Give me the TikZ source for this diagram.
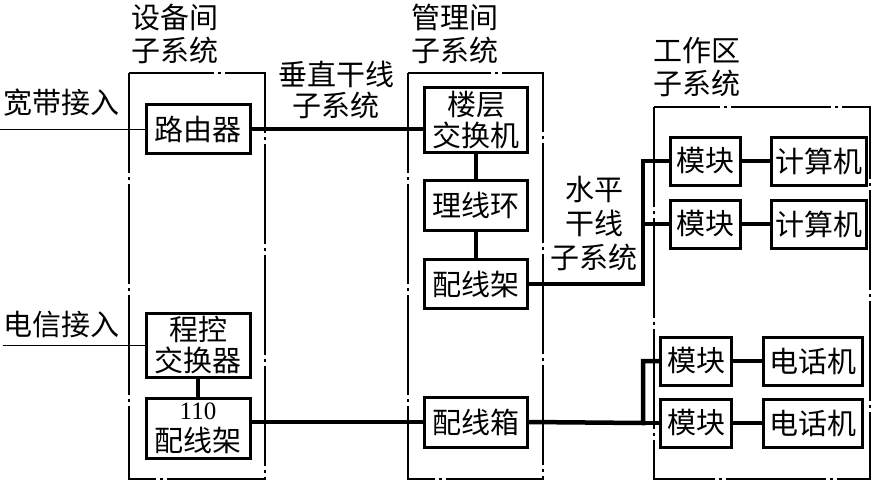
\documentclass[tikz,border=0pt]{standalone}
\usepackage{fontspec}
\setmainfont{Liberation Serif}
\newfontfamily\cjk{Noto Sans CJK SC}
\begin{document}
\begin{tikzpicture}[x=1pt, y=-1pt, font=\cjk\fontsize{29}{31}\selectfont,
    unit/.style={draw, line width=3pt, inner sep=0pt, align=center, fill=white},
    frame/.style={line width=1.2pt, dash pattern=on 100pt off 4pt on 3pt off 4pt},
    wire/.style={line width=4.5pt},
    title/.style={align=center, font=\cjk\fontsize{29}{33}\selectfont}]
  \useasboundingbox (0,0) rectangle (871,483);
  % Subsystem frames
  \draw[frame] (129,73) rectangle (265,479);
  \draw[frame] (408,73) rectangle (543,479);
  \draw[frame] (654,107) rectangle (870,479);
  \node[title] (eqroom) at (175,34) {设备间\\子系统};
  \node[title] (mgroom) at (455,34) {管理间\\子系统};
  \node[title] (wkarea) at (697,67) {工作区\\子系统};
  % Equipment room
  \node[unit, minimum width=104, minimum height=49] (router) at (198,129) {路由器};
  \node[unit, minimum width=104, minimum height=64] (pbx) at (198,345) {程控\\交换器};
  \node[unit, minimum width=104, minimum height=60, font=\cjk\fontsize{29}{32}\selectfont] (rack110) at (198,428) {{\rmfamily\fontsize{25}{25}\selectfont 110}\\配线架};
  % Management room
  \node[unit, minimum width=103, minimum height=65] (floorsw) at (476,120) {楼层\\交换机};
  \node[unit, minimum width=103, minimum height=50] (ring) at (476,205) {理线环};
  \node[unit, minimum width=103, minimum height=49] (patch) at (476,284) {配线架};
  \node[unit, minimum width=103, minimum height=50] (dbox) at (476,422) {配线箱};
  % Work area
  \node[unit, minimum width=70, minimum height=48] (modA) at (705,161) {模块};
  \node[unit, minimum width=70, minimum height=48] (modB) at (705,224) {模块};
  \node[unit, minimum width=95, minimum height=48] (pcA) at (819,161) {计算机};
  \node[unit, minimum width=95, minimum height=48] (pcB) at (819,224) {计算机};
  \node[unit, minimum width=71, minimum height=48] (modC) at (696,361) {模块};
  \node[unit, minimum width=71, minimum height=48] (modD) at (696,423) {模块};
  \node[unit, minimum width=99, minimum height=48] (telA) at (813,361) {电话机};
  \node[unit, minimum width=99, minimum height=48] (telB) at (813,423) {电话机};
  % Incoming lines
  \coordinate (bbin) at (0,129);
  \coordinate (telin) at (3,345);
  \node (bblabel) at (62,103) {宽带接入};
  \node (tellabel) at (62,325) {电信接入};
  \draw[line width=1pt] (bbin) -- (router.west);
  \draw[line width=1pt] (telin) -- (pbx.west);
  % Backbone and horizontal cabling
  \draw[wire] (router.east) -- (router.east -| floorsw.west);
  \node[align=center] (vlabel) at (336,90) {垂直干线\\子系统};
  \draw[wire] (pbx) -- (rack110);
  \draw[wire] (rack110.east |- dbox.west) -- (dbox.west);
  \draw[wire] (floorsw) -- (ring) -- (patch);
  \coordinate (busA) at (643,284);
  \coordinate (busB) at (643,423);
  \draw[wire] (patch.east) -- (busA) -- (busA |- modA.west) -- (modA.west);
  \draw[wire] (busA |- modB.west) -- (modB.west);
  \draw[wire] (dbox.east) -- (busB) -- (busB |- modC.west) -- (modC.west);
  \draw[wire] (busB) -- (modD.west);
  \node[align=center, font=\cjk\fontsize{29}{34}\selectfont] (hlabel) at (594,224) {水平\\干线\\子系统};
  \foreach \m/\d in {modA/pcA, modB/pcB, modC/telA, modD/telB}
    \draw[wire] (\m) -- (\d);
\end{tikzpicture}
\end{document}
